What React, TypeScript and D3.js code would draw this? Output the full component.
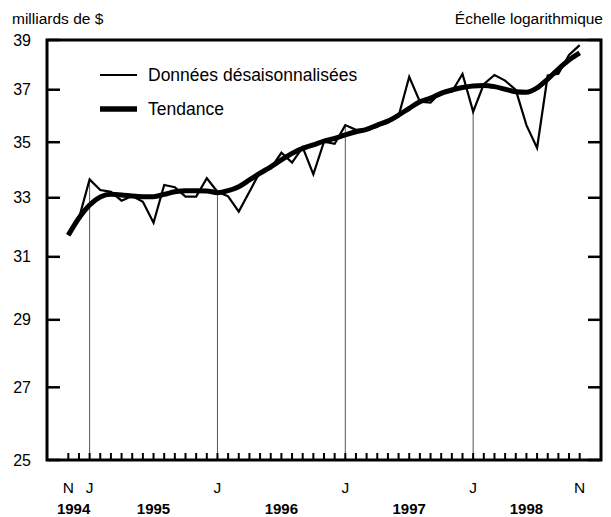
import * as d3 from "d3";

// monthly, Nov 1994 .. Nov 1998 (index 0 = Nov 1994)
const raw = [
  31.72, 32.29, 33.65, 33.27, 33.21, 32.9, 33.06, 32.86, 32.14, 33.45, 33.37, 33.04, 33.04,
  33.69, 33.21, 33.05, 32.52, 33.21, 33.92, 34.04, 34.61, 34.25, 34.81, 33.83, 35.02,
  34.94, 35.64, 35.46, 35.46, 35.58, 35.83, 35.98, 37.51, 36.53, 36.5, 36.92, 36.92,
  37.62, 36.15, 37.22, 37.58, 37.36, 36.99, 35.64, 34.79, 37.56, 37.63, 38.39, 38.79,
];
const trend = [
  31.72, 32.3, 32.75, 33.03, 33.12, 33.1, 33.06, 33.04, 33.04, 33.12, 33.21, 33.25, 33.25,
  33.24, 33.18, 33.25, 33.39, 33.63, 33.87, 34.1, 34.35, 34.59, 34.77, 34.9, 35.04,
  35.14, 35.27, 35.39, 35.48, 35.64, 35.79, 36.02, 36.28, 36.53, 36.67, 36.86, 36.99,
  37.09, 37.15, 37.17, 37.12, 37.02, 36.92, 36.9, 37.07, 37.42, 37.82, 38.18, 38.47,
];
const yTicks = [25, 27, 29, 31, 33, 35, 37, 39];
const monthTickLabels = ["N", "J", "J", "J", "J", "N"];
const monthTickIdx = [0, 2, 14, 26, 38, 48];
const januaryIdx = [2, 14, 26, 38];
const yearLabels = ["1994", "1995", "1996", "1997", "1998"];
const yearIdx = [0.5, 8, 20, 32, 43];

const W = 611;
const H = 517;
const font = "'Liberation Sans', Arial, sans-serif";

export default function App() {
  const x = d3.scaleLinear().domain([-2, 50]).range([47, 601]);
  const y = d3.scaleLog().domain([25, 39]).range([460, 40]);
  const line = d3
    .line<number>()
    .x((_, i) => x(i))
    .y((d) => y(d));
  const trendLine = d3
    .line<number>()
    .x((_, i) => x(i))
    .y((d) => y(d))
    .curve(d3.curveMonotoneX);
  const months = d3.range(0, raw.length);

  return (
    <svg
      width={W}
      height={H}
      style={{ position: "absolute", left: 0, top: 0, background: "#fff" }}
      fontFamily={font}
    >
      <text x={12} y={24} fontSize={15.5}>
        milliards de $
      </text>
      <text x={603} y={24} fontSize={15.5} textAnchor="end">
        Échelle logarithmique
      </text>

      {januaryIdx.map((m) => (
        <line key={m} x1={x(m)} x2={x(m)} y1={y(25)} y2={y(raw[m])} stroke="#555" strokeWidth={1} />
      ))}

      {months.map((m) => (
        <line key={m} x1={x(m)} x2={x(m)} y1={460} y2={453} stroke="#000" strokeWidth={2} />
      ))}

      {yTicks.map((t) => (
        <g key={t}>
          <line x1={47} x2={60} y1={y(t)} y2={y(t)} stroke="#000" strokeWidth={2.5} />
          <line x1={588} x2={601} y1={y(t)} y2={y(t)} stroke="#000" strokeWidth={2.5} />
          <text x={31} y={y(t)} dy="0.35em" fontSize={16} textAnchor="end">
            {t}
          </text>
        </g>
      ))}

      <path d={trendLine(trend) ?? ""} fill="none" stroke="#000" strokeWidth={5} strokeLinejoin="round" />
      <path d={line(raw) ?? ""} fill="none" stroke="#000" strokeWidth={2.2} strokeLinejoin="miter" />

      <rect x={47} y={40} width={554} height={420} fill="none" stroke="#000" strokeWidth={3} />

      {monthTickLabels.map((t, k) => (
        <text key={k} x={x(monthTickIdx[k])} y={493} fontSize={15.5} textAnchor="middle">
          {t}
        </text>
      ))}
      {yearLabels.map((t, k) => (
        <text key={t} x={x(yearIdx[k])} y={514} fontSize={15} fontWeight="bold" textAnchor="middle">
          {t}
        </text>
      ))}

      <line x1={100} x2={137} y1={75} y2={75} stroke="#000" strokeWidth={2} />
      <text x={148} y={75} dy="0.35em" fontSize={17.5}>
        Données désaisonnalisées
      </text>
      <line x1={100} x2={137} y1={109} y2={109} stroke="#000" strokeWidth={5.5} />
      <text x={148} y={109} dy="0.35em" fontSize={17.5}>
        Tendance
      </text>
    </svg>
  );
}
